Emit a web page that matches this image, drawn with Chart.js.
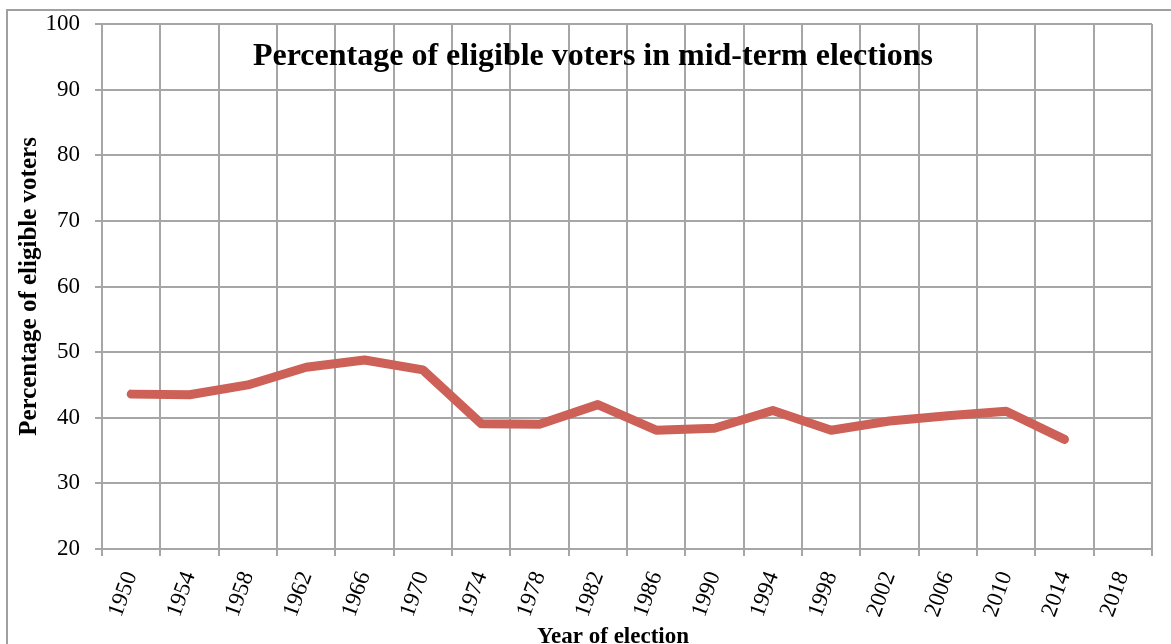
<!DOCTYPE html>
<html>
<head>
<meta charset="utf-8">
<script src="https://cdn.jsdelivr.net/npm/chart.js@4/dist/chart.umd.min.js"></script>
<style>
  html, body { margin: 0; padding: 0; background: #fff; }
  #wrap { width: 1171px; height: 644px; position: relative; }
</style>
</head>
<body>
<div id="wrap"><canvas id="chart"></canvas></div>
<script>
const years = ['1950', '1954', '1958', '1962', '1966', '1970', '1974', '1978', '1982',
  '1986', '1990', '1994', '1998', '2002', '2006', '2010', '2014', '2018'];
const turnout = [43.6, 43.5, 45.0, 47.7, 48.8, 47.3, 39.1, 39.0, 42.0,
  38.1, 38.4, 41.1, 38.1, 39.5, 40.3, 41.0, 36.7, null];

const chartTitle = 'Percentage of eligible voters in mid-term elections';
const xTitle = 'Year of election';
const yTitle = 'Percentage of eligible voters';

const serif = '"Liberation Serif", "DejaVu Serif", serif';
const gridGray = '#a6a6a6';

// frame, chart title and axis titles
const decorations = {
  id: 'decorations',
  beforeDraw(chart) {
    const ctx = chart.ctx;
    ctx.save();
    ctx.strokeStyle = '#a0a0a0';
    ctx.lineWidth = 2;
    ctx.strokeRect(7, 10, 1250, 700);
    ctx.restore();
  },
  afterDraw(chart) {
    const ctx = chart.ctx;
    const area = chart.chartArea;
    ctx.save();
    ctx.fillStyle = '#000';
    ctx.textAlign = 'center';
    ctx.textBaseline = 'alphabetic';
    ctx.font = 'bold 32px ' + serif;
    ctx.fillText(chartTitle, 593, 65);

    ctx.font = 'bold 23px ' + serif;
    ctx.fillText(xTitle, 613, 643);

    ctx.textBaseline = 'middle';
    ctx.font = 'bold 25px ' + serif;
    ctx.translate(30, (area.top + area.bottom) / 2);
    ctx.rotate(-Math.PI / 2);
    ctx.fillText(yTitle, 0, 0);
    ctx.restore();
  }
};

new Chart(document.getElementById('chart'), {
  type: 'line',
  data: {
    labels: years,
    datasets: [{
      data: turnout,
      borderColor: '#cd6057',
      borderWidth: 9,
      borderCapStyle: 'round',
      borderJoinStyle: 'round',
      pointRadius: 0,
      tension: 0,
      fill: false
    }]
  },
  options: {
    responsive: true,
    maintainAspectRatio: false,
    animation: false,
    layout: { padding: { left: 0, top: 24, right: 19, bottom: 0 } },
    plugins: {
      legend: { display: false },
      tooltip: { enabled: false }
    },
    scales: {
      x: {
        offset: true,
        grid: { offset: true, color: gridGray, lineWidth: 2, tickLength: 7 },
        border: { color: gridGray, width: 2 },
        ticks: {
          autoSkip: false,
          minRotation: 70,
          maxRotation: 70,
          padding: 12,
          color: '#000',
          font: { family: serif, size: 23 }
        },
        afterFit(scale) {
          scale.height = 95;
          scale.paddingLeft = 0;
          scale.paddingRight = 0;
        }
      },
      y: {
        min: 20,
        max: 100,
        grid: { color: gridGray, lineWidth: 2, tickLength: 7 },
        border: { color: gridGray, width: 2 },
        ticks: {
          stepSize: 10,
          padding: 15,
          color: '#000',
          font: { family: serif, size: 23 }
        },
        afterFit(scale) {
          scale.width = 102;
          scale.paddingTop = 0;
          scale.paddingBottom = 0;
        }
      }
    }
  },
  plugins: [decorations]
});
</script>
</body>
</html>
